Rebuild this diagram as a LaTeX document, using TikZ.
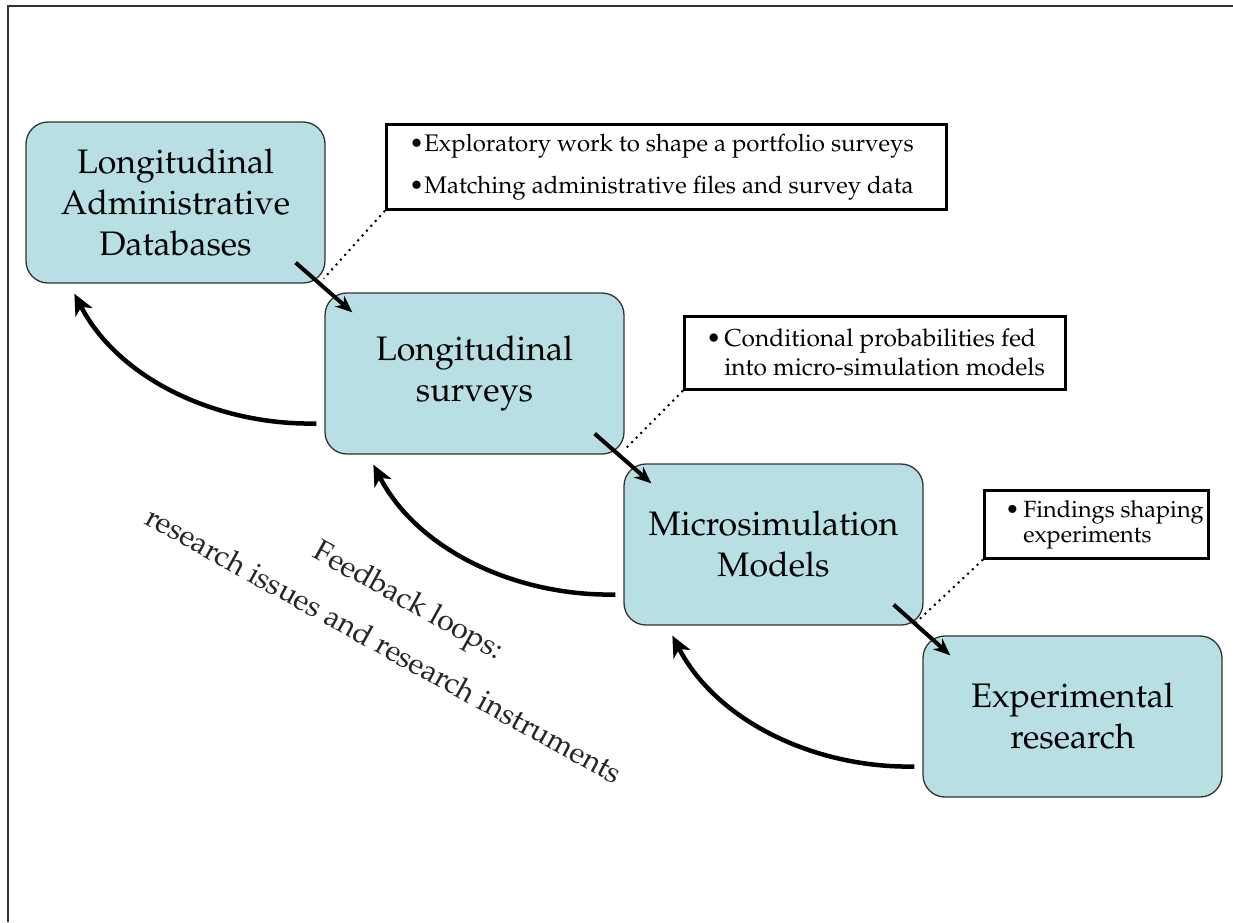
\documentclass[tikz,border=0pt]{standalone}
\usepackage[T1]{fontenc}
\usepackage{mathpazo}
\usetikzlibrary{arrows.meta,calc}
\definecolor{boxfill}{RGB}{184,223,227}
\newcommand{\bitem}[3]{\makebox[#1][l]{\makebox[#2][l]{\textbullet}#3}}
\newcommand{\bmore}[3]{\makebox[#1][l]{\hspace*{#2}#3}}
\begin{document}
\begin{tikzpicture}[x=1pt,y=-1pt,
 stage/.style={draw=black!80, line width=1.3pt, fill=boxfill, rounded corners=22pt,
   minimum width=299pt, minimum height=161pt, align=center, inner sep=0pt,
   font=\fontsize{34}{41}\selectfont},
 note/.style={draw=black, line width=2.6pt, anchor=north west, align=left,
   inner ysep=0pt},
 fwd/.style={line width=4pt, -{Stealth[length=17pt,width=14pt]}},
 fb/.style={line width=4.5pt, -{Stealth[length=21pt,width=19pt,inset=6pt]}},
 lead/.style={line width=2pt, dash pattern=on 2pt off 4.5pt}]

\useasboundingbox (0,0) rectangle (1233,922);
\draw[line width=2.5pt, black!80] (8,922) -- (8,6) -- (1233,6);

\node[stage] (b1) at (175.5,202.5) {Longitudinal\\Administrative\\Databases};
\node[stage] (b2) at (474.5,373.5) {Longitudinal\\surveys};
\node[stage] (b3) at (773.5,544.5) {Microsimulation\\Models};
\node[stage] (b4) at (1072.5,716.5) {Experimental\\research};

\node[note, inner xsep=23pt, minimum height=85pt,
  font=\fontsize{24}{29}\selectfont] (c1) at (385,123)
  {\bitem{514pt}{15pt}{Exploratory work to shape a portfolio surveys}\\[13pt]
   \bitem{514pt}{15pt}{Matching administrative files and survey data}};
\node[note, inner xsep=22pt, minimum height=73pt,
  font=\fontsize{24.5}{29}\selectfont] (c2) at (683,315)
  {\bitem{337pt}{18pt}{Conditional probabilities fed}\\
   \bmore{337pt}{18pt}{into micro-simulation models}};
\node[note, inner xsep=21pt, minimum height=68pt,
  font=\fontsize{23.5}{25}\selectfont] (c3) at (983,489)
  {\bitem{182pt}{18pt}{Findings shaping}\\
   \bmore{182pt}{18pt}{experiments}};

\draw[lead] (c1.south west) -- ($(b1.south east)+(-2,-5)$);
\draw[lead] (c2.south west) -- ($(b2.south east)+(0,-5)$);
\draw[lead] (c3.south west) -- ($(b3.south east)+(-9,-2)$);

\draw[fwd] ($(b1.south east)+(-30,-21)$) -- ($(b2.north west)+(28,20)$);
\draw[fwd] ($(b2.south east)+(-30,-21)$) -- ($(b3.north west)+(28,20)$);
\draw[fwd] ($(b3.south east)+(-30,-21)$) -- ($(b4.north west)+(28,20)$);

\draw[fb] ($(b2.west)+(-8,50)$) .. controls +(-97,2) and +(45,87) .. ($(b1.south west)+(49,10)$);
\draw[fb] ($(b3.west)+(-8,50)$) .. controls +(-97,2) and +(45,87) .. ($(b2.south west)+(49,10)$);
\draw[fb] ($(b4.west)+(-8,50)$) .. controls +(-97,2) and +(45,87) .. ($(b3.south west)+(49,10)$);

\node[rotate=-29, align=center, text=black!85, font=\fontsize{30}{52}\selectfont]
  (fl) at (397,622) {Feedback loops:\\research issues and research instruments};
\end{tikzpicture}
\end{document}
